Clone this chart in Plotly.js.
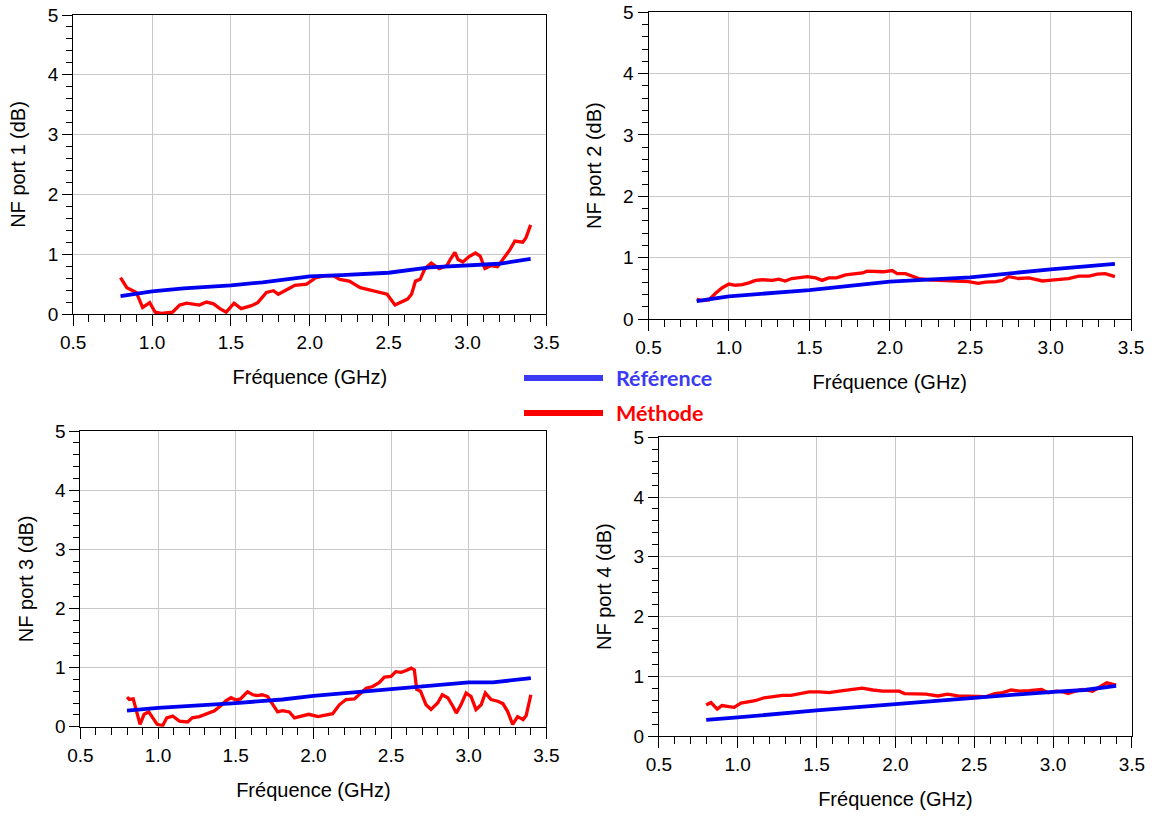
<!DOCTYPE html>
<html>
<head>
<meta charset="utf-8">
<script src="https://cdn.plot.ly/plotly-3.0.1.min.js"></script>
<style>
  html, body { margin: 0; padding: 0; background: #ffffff; }
  #chart { width: 1161px; height: 817px; }
</style>
</head>
<body>
<div id="chart"></div>
<script>
// ---------- Data (frequency in GHz, NF in dB) ----------
// Port 1
const freqRef1 = [0.80, 1.00, 1.20, 1.50, 1.70, 1.90, 2.00, 2.20, 2.50, 2.76, 3.00, 3.20, 3.40];
const nfRef1   = [0.30, 0.38, 0.43, 0.48, 0.53, 0.60, 0.63, 0.65, 0.69, 0.78, 0.81, 0.84, 0.92];
const freqMeth1 = [0.80,0.84,0.90,0.94,0.985,1.02,1.06,1.10,1.13,1.175,1.22,1.30,1.345,1.39,1.43,1.47,1.52,1.565,1.63,1.67,1.725,1.77,1.80,1.85,1.905,1.98,2.04,2.10,2.15,2.19,2.25,2.32,2.40,2.49,2.54,2.57,2.62,2.645,2.67,2.70,2.73,2.77,2.82,2.87,2.89,2.92,2.94,2.97,3.01,3.05,3.08,3.11,3.15,3.19,3.23,3.27,3.30,3.35,3.37,3.40];
const nfMeth1   = [0.61,0.44,0.36,0.11,0.19,0.03,0.01,0.02,0.03,0.15,0.18,0.15,0.20,0.17,0.09,0.03,0.18,0.09,0.14,0.19,0.36,0.39,0.33,0.40,0.48,0.50,0.61,0.64,0.64,0.58,0.55,0.44,0.39,0.33,0.15,0.19,0.25,0.33,0.55,0.58,0.76,0.85,0.76,0.81,0.91,1.03,0.91,0.87,0.96,1.02,0.97,0.76,0.81,0.79,0.94,1.08,1.22,1.20,1.27,1.49];

// Port 2
const freqRef2 = [0.80, 1.00, 1.50, 1.75, 2.00, 2.50, 2.82, 3.00, 3.40];
const nfRef2   = [0.29, 0.37, 0.47, 0.54, 0.61, 0.68, 0.77, 0.81, 0.90];
const freqMeth2 = [0.80,0.834,0.876,0.917,0.959,1.00,1.04,1.083,1.124,1.166,1.207,1.27,1.31,1.35,1.39,1.435,1.487,1.54,1.58,1.62,1.67,1.725,1.777,1.83,1.86,1.91,1.96,2.015,2.046,2.098,2.14,2.18,2.24,2.305,2.367,2.43,2.49,2.55,2.595,2.66,2.70,2.74,2.80,2.865,2.906,2.95,2.99,3.05,3.11,3.176,3.24,3.29,3.34,3.40];
const nfMeth2   = [0.32,0.30,0.31,0.42,0.51,0.57,0.55,0.56,0.59,0.63,0.64,0.63,0.65,0.62,0.66,0.68,0.69,0.67,0.63,0.67,0.67,0.72,0.74,0.75,0.78,0.77,0.77,0.79,0.74,0.74,0.70,0.66,0.64,0.63,0.62,0.61,0.61,0.58,0.60,0.61,0.63,0.69,0.66,0.67,0.64,0.62,0.63,0.64,0.66,0.70,0.70,0.73,0.74,0.69];

// Port 3
const freqRef3 = [0.80, 1.00, 1.50, 1.80, 2.00, 2.50, 2.70, 3.00, 3.155, 3.40];
const nfRef3   = [0.27, 0.32, 0.40, 0.46, 0.52, 0.63, 0.68, 0.75, 0.75, 0.82];
const freqMeth3 = [0.80,0.815,0.84,0.86,0.884,0.91,0.94,0.966,0.994,1.03,1.056,1.094,1.137,1.19,1.22,1.266,1.31,1.363,1.405,1.438,1.47,1.50,1.53,1.576,1.61,1.64,1.67,1.706,1.74,1.77,1.80,1.845,1.878,1.93,1.97,2.03,2.08,2.124,2.167,2.21,2.264,2.296,2.34,2.382,2.425,2.457,2.50,2.53,2.565,2.597,2.63,2.65,2.665,2.69,2.725,2.757,2.80,2.83,2.865,2.897,2.92,2.95,2.983,3.015,3.047,3.08,3.107,3.144,3.187,3.22,3.25,3.283,3.315,3.35,3.37,3.40];
const nfMeth3   = [0.50,0.46,0.47,0.26,0.04,0.21,0.25,0.15,0.04,0.02,0.15,0.18,0.095,0.08,0.15,0.17,0.21,0.27,0.36,0.44,0.49,0.45,0.47,0.59,0.54,0.525,0.54,0.51,0.37,0.25,0.27,0.25,0.15,0.19,0.21,0.17,0.19,0.22,0.37,0.46,0.47,0.54,0.65,0.68,0.75,0.84,0.85,0.93,0.92,0.95,0.99,0.96,0.63,0.60,0.37,0.29,0.40,0.54,0.49,0.35,0.23,0.37,0.57,0.51,0.29,0.37,0.57,0.46,0.43,0.39,0.26,0.04,0.17,0.12,0.19,0.54];

// Port 4
const freqRef4 = [0.80, 1.00, 1.50, 2.00, 2.50, 3.00, 3.20, 3.40];
const nfRef4   = [0.27, 0.31, 0.43, 0.54, 0.64, 0.74, 0.77, 0.84];
const freqMeth4 = [0.80,0.83,0.87,0.90,0.945,0.977,1.02,1.072,1.11,1.167,1.22,1.284,1.337,1.39,1.453,1.517,1.58,1.644,1.708,1.79,1.856,1.92,1.983,2.025,2.057,2.13,2.195,2.27,2.33,2.396,2.45,2.51,2.576,2.63,2.68,2.735,2.79,2.85,2.926,2.97,3.02,3.06,3.095,3.14,3.19,3.25,3.30,3.34,3.40];
const nfMeth4   = [0.52,0.56,0.45,0.51,0.49,0.48,0.55,0.57,0.59,0.64,0.66,0.68,0.68,0.71,0.74,0.74,0.725,0.75,0.77,0.80,0.77,0.75,0.75,0.75,0.71,0.71,0.70,0.67,0.70,0.67,0.67,0.67,0.66,0.71,0.725,0.77,0.75,0.76,0.78,0.725,0.75,0.74,0.71,0.75,0.78,0.75,0.835,0.89,0.85];

const yTitles = ["NF port 1 (dB)", "NF port 2 (dB)", "NF port 3 (dB)", "NF port 4 (dB)"];
const xTitle = "Fréquence (GHz)";
const legendNames = ["Référence", "Méthode"];

// ---------- Styling ----------
const BLUE = "#0000F0";
const RED = "#FF0000";
const FONT = "Liberation Sans, Arial, sans-serif";

const refs = [[freqRef1, nfRef1], [freqRef2, nfRef2], [freqRef3, nfRef3], [freqRef4, nfRef4]];
const meths = [[freqMeth1, nfMeth1], [freqMeth2, nfMeth2], [freqMeth3, nfMeth3], [freqMeth4, nfMeth4]];

const traces = [];
for (let i = 0; i < 4; i++) {
  const sfx = i === 0 ? "" : String(i + 1);
  traces.push({
    x: meths[i][0], y: meths[i][1], type: "scatter", mode: "lines",
    name: legendNames[1], xaxis: "x" + sfx, yaxis: "y" + sfx,
    line: { color: RED, width: 3.3 }, showlegend: false
  });
  traces.push({
    x: refs[i][0], y: refs[i][1], type: "scatter", mode: "lines",
    name: legendNames[0], xaxis: "x" + sfx, yaxis: "y" + sfx,
    line: { color: BLUE, width: 3.8 }, showlegend: false
  });
}

const W = 1161, H = 817;
// pixel boxes of the four plot areas [left, right, top, bottom]
const boxes = [
  [73.2, 546.4, 15, 314],
  [648.5, 1131, 12.3, 319],
  [80.4, 546.4, 431, 726.7],
  [658.9, 1131.9, 437.3, 736]
];

function xAxis(i) {
  const b = boxes[i];
  return {
    domain: [b[0] / W, b[1] / W],
    anchor: "y" + (i === 0 ? "" : i + 1),
    range: [0.5, 3.5],
    tickmode: "linear", tick0: 0.5, dtick: 0.5,
    tickformat: ".1f",
    ticks: "outside", ticklen: 11, tickwidth: 1, tickcolor: "#000",
    minor: { dtick: 0.1, ticks: "outside", ticklen: 7, tickwidth: 1, tickcolor: "#000", showgrid: false },
    showline: true, linecolor: "#000", linewidth: 1, mirror: true,
    showgrid: true, gridcolor: "#C8C8C8", gridwidth: 1,
    zeroline: false,
    tickfont: { family: FONT, size: 19, color: "#000" },
    title: { text: xTitle, font: { family: FONT, size: 20, color: "#000" }, standoff: 18 },
    fixedrange: true
  };
}
function yAxis(i) {
  const b = boxes[i];
  return {
    domain: [1 - b[3] / H, 1 - b[2] / H],
    anchor: "x" + (i === 0 ? "" : i + 1),
    range: [0, 5],
    tickmode: "linear", tick0: 0, dtick: 1,
    ticks: "outside", ticklen: 10, tickwidth: 1, tickcolor: "#000",
    minor: { dtick: 0.2, ticks: "outside", ticklen: 6, tickwidth: 1, tickcolor: "#000", showgrid: false },
    showline: true, linecolor: "#000", linewidth: 1, mirror: true,
    showgrid: true, gridcolor: "#C8C8C8", gridwidth: 1,
    zeroline: false,
    tickfont: { family: FONT, size: 19, color: "#000" },
    title: { text: yTitles[i], font: { family: FONT, size: 20, color: "#000" }, standoff: 16 },
    fixedrange: true
  };
}

const layout = {
  width: W, height: H,
  margin: { l: 0, r: 0, t: 0, b: 0 },
  paper_bgcolor: "#fff", plot_bgcolor: "#fff",
  showlegend: false,
  shapes: [
    { type: "line", xref: "paper", yref: "paper", x0: 524 / W, x1: 603 / W, y0: 1 - 378 / H, y1: 1 - 378 / H,
      line: { color: "#3B3BF5", width: 6 } },
    { type: "line", xref: "paper", yref: "paper", x0: 524 / W, x1: 603 / W, y0: 1 - 413 / H, y1: 1 - 413 / H,
      line: { color: "#FF0000", width: 6 } }
  ],
  annotations: [
    { xref: "paper", yref: "paper", x: 614 / W, y: 1 - 378 / H, xanchor: "left", yanchor: "middle",
      text: "<b>" + legendNames[0] + "</b>", showarrow: false,
      font: { family: "Lato, sans-serif", size: 21.5, color: "#3B3BF5" } },
    { xref: "paper", yref: "paper", x: 614 / W, y: 1 - 413 / H, xanchor: "left", yanchor: "middle",
      text: "<b>" + legendNames[1] + "</b>", showarrow: false,
      font: { family: "Lato, sans-serif", size: 21.5, color: "#FF0000" } }
  ]
};
for (let i = 0; i < 4; i++) {
  const sfx = i === 0 ? "" : String(i + 1);
  layout["xaxis" + sfx] = xAxis(i);
  layout["yaxis" + sfx] = yAxis(i);
}

Plotly.newPlot("chart", traces, layout, { staticPlot: true, displayModeBar: false });
</script>
</body>
</html>
